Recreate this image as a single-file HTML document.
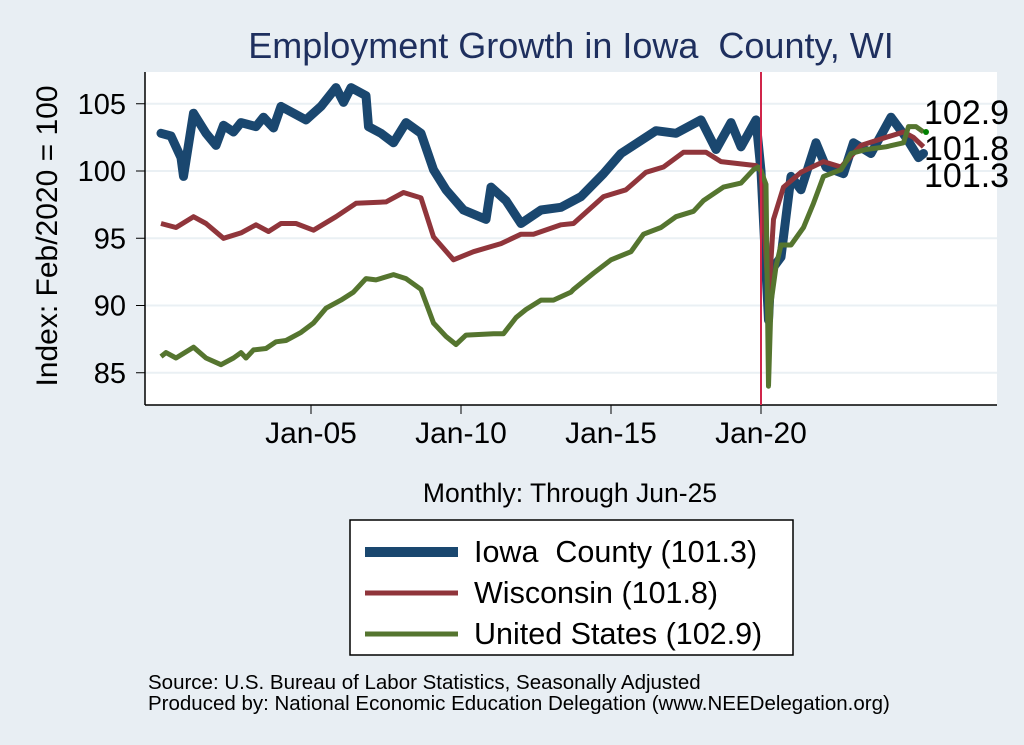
<!DOCTYPE html>
<html><head><meta charset="utf-8"><style>
body{margin:0;background:#e8eef3;}
svg{display:block;font-family:"Liberation Sans",sans-serif;}
</style></head><body>
<svg id="chart" width="1024" height="745" viewBox="0 0 1024 745">
<rect x="0" y="0" width="1024" height="745" fill="#e8eef3"/>
<text x="571" y="58" font-size="36" fill="#1e2f5e" text-anchor="middle">Employment Growth in Iowa &#160;County, WI</text>
<rect x="145" y="72" width="852" height="333" fill="#fff"/>
<g id="grid"></g>
<g id="axes"></g>
<g id="series"></g>
<text x="570" y="502" font-size="26.5" text-anchor="middle" fill="#000">Monthly: Through Jun-25</text>
<text transform="translate(57,236) rotate(-90)" font-size="30" text-anchor="middle" fill="#000">Index: Feb/2020 = 100</text>
<g>
<rect x="350" y="520" width="443" height="135" fill="#fff" stroke="#000" stroke-width="1.5"/>
<line x1="365" y1="552" x2="458" y2="552" stroke="#1a476f" stroke-width="10"/>
<text x="474" y="562" font-size="30.5">Iowa &#160;County (101.3)</text>
<line x1="365" y1="593" x2="458" y2="593" stroke="#90353b" stroke-width="5"/>
<text x="474" y="603" font-size="30.5">Wisconsin (101.8)</text>
<line x1="365" y1="634" x2="458" y2="634" stroke="#55752f" stroke-width="5"/>
<text x="474" y="644" font-size="30.5">United States (102.9)</text>
</g>
<text x="148" y="689" font-size="20.5">Source: U.S. Bureau of Labor Statistics, Seasonally Adjusted</text>
<text x="148" y="710" font-size="20.5">Produced by: National Economic Education Delegation (www.NEEDelegation.org)</text>
</svg>
<script>
const yTicks=[85,90,95,100,105];
const xTickMonths=[60,120,180,240];
const xTickLabels=["Jan-05","Jan-10","Jan-15","Jan-20"];
const iowaMonths=[0,4,8,9,13,18,22,25,29,32,38,41,45,48,58,64,70,73,76,82,83,88,93,98,104,109,114,121,130,132,138,144,152,160,168,177,184,198,206,216,222,228,232,238,240,243,244,248,252,256,262,266,273,277,284,292,298,303,305];
const iowaValues=[102.8,102.6,101,99.6,104.3,102.8,101.9,103.4,102.9,103.6,103.3,104.0,103.2,104.8,103.8,104.8,106.2,105.1,106.2,105.6,103.3,102.8,102.1,103.6,102.8,100.1,98.6,97.1,96.4,98.8,97.8,96.1,97.1,97.3,98.1,99.8,101.3,103.0,102.8,103.8,101.6,103.6,101.8,103.8,100.0,88.9,92.6,93.6,99.6,98.6,102.1,100.3,99.8,102.1,101.3,104.0,102.5,101.0,101.3];
const wiMonths=[0,6,13,18,25,32,38,43,48,54,61,70,78,90,97,104,109,117,125,136,144,149,160,165,177,186,194,201,209,218,224,238,240,243,245,249,256,265,272,280,290,297,301,305];
const wiValues=[96.1,95.8,96.6,96.1,95.0,95.4,96.0,95.5,96.1,96.1,95.6,96.6,97.6,97.7,98.4,98.0,95.1,93.4,94.0,94.6,95.3,95.3,96.0,96.1,98.1,98.6,99.9,100.3,101.4,101.4,100.7,100.4,100.0,90.4,96.4,98.8,99.9,100.7,100.3,101.9,102.5,102.9,102.5,101.8];
const usMonths=[0,2,6,13,18,24,29,32,34,37,42,46,50,56,61,66,72,77,82,86,93,98,104,109,114,118,122,133,137,142,146,152,157,164,165,173,180,188,193,200,206,213,217,225,232,237,239,240,242,243,244,246,248,252,257,261,265,272,276,282,290,297,299,302,305];
const usValues=[86.2,86.5,86.1,86.9,86.1,85.6,86.1,86.5,86.1,86.7,86.8,87.3,87.4,88.0,88.7,89.8,90.4,91.0,92.0,91.9,92.3,92.0,91.2,88.7,87.7,87.1,87.8,87.9,87.9,89.1,89.7,90.4,90.4,91.0,91.2,92.4,93.4,94.0,95.3,95.8,96.6,97.0,97.8,98.8,99.1,100.1,100.3,100.0,99.0,84.0,90.2,92.9,94.5,94.5,95.8,97.6,99.6,100.1,101.3,101.6,101.8,102.1,103.3,103.3,102.9];
const endLabels=["102.9","101.8","101.3"];

const NS="http://www.w3.org/2000/svg";
function xs(m){return 161+m*2.5;}
function ys(v){return 171-(v-100)*13.45;}
function mk(tag,attrs,parent){const e=document.createElementNS(NS,tag);for(const k in attrs)e.setAttribute(k,attrs[k]);parent.appendChild(e);return e;}
const grid=document.getElementById('grid'),axes=document.getElementById('axes'),ser=document.getElementById('series');
yTicks.forEach(t=>{
  const g=mk('line',{x1:145,x2:997,y1:ys(t),y2:ys(t),stroke:'#eaf0f4','stroke-width':2},grid);
  
  
  const tk=mk('line',{x1:136,x2:145,y1:ys(t),y2:ys(t),stroke:'#000','stroke-width':1},axes);
  
  
  const tx=mk('text',{x:126,y:ys(t)+10,'font-size':29,'text-anchor':'end'},axes);
  tx.textContent=t;
  
  
});
const ya=mk('line',{x1:145,x2:145,y1:72,y2:405,stroke:'#000','stroke-width':1.5},axes);


const xa=mk('line',{x1:145,x2:997,y1:405,y2:405,stroke:'#000','stroke-width':1.5},axes);


xTickMonths.forEach((m,i)=>{
  const tk=mk('line',{x1:xs(m),x2:xs(m),y1:405,y2:414,stroke:'#000'},axes);
  
  
  const tx=mk('text',{x:xs(m),y:443,'font-size':30,'text-anchor':'middle'},axes);
  tx.textContent=xTickLabels[i];
  
  
});
function path(ms,vs){return ms.map((m,i)=>(i?'L':'M')+xs(m).toFixed(1)+','+ys(vs[i]).toFixed(1)).join('');}
const p1=mk('path',{d:path(iowaMonths,iowaValues),fill:'none',stroke:'#1a476f','stroke-width':9,'stroke-linejoin':'round','stroke-linecap':'round'},ser);


const p2=mk('path',{d:path(wiMonths,wiValues),fill:'none',stroke:'#90353b','stroke-width':5,'stroke-linejoin':'round'},ser);


const p3=mk('path',{d:path(usMonths,usValues),fill:'none',stroke:'#55752f','stroke-width':5,'stroke-linejoin':'round'},ser);


const dot=mk('circle',{cx:xs(306),cy:ys(usValues[usValues.length-1]),r:3,fill:'#008000'},ser);


const vl=mk('line',{x1:xs(240),x2:xs(240),y1:72,y2:405,stroke:'#d0254a','stroke-width':2},ser);


const labY=[124,160,187];
endLabels.forEach((l,i)=>{
  const t=mk('text',{x:924,y:labY[i],'font-size':34},ser);
  t.textContent=l;
  
  
});
</script>
</body></html>
